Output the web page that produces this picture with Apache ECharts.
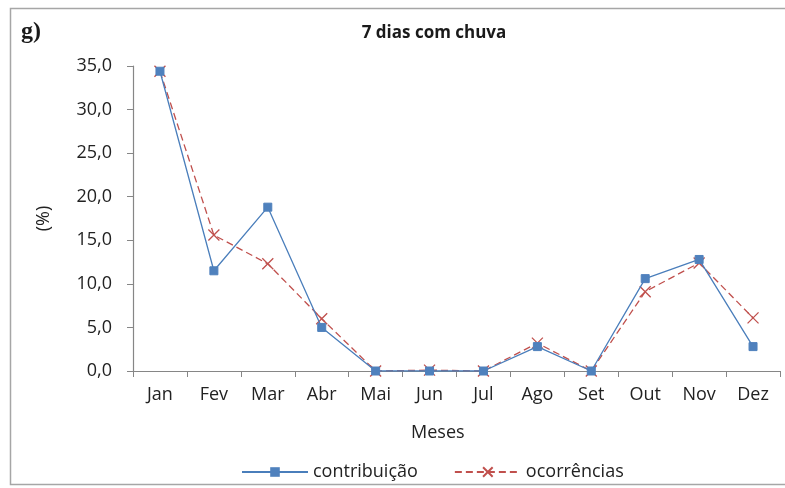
<!DOCTYPE html>
<html>
<head>
<meta charset="utf-8">
<script src="https://cdn.jsdelivr.net/npm/echarts@6/dist/echarts.min.js"></script>
<style>
  html, body { margin: 0; padding: 0; background: #fff; }
  #chart { width: 785px; height: 488px; }
</style>
</head>
<body>
<div id="chart"></div>
<script>
// Monthly share (%) of 7-day rain events
const months = ['Jan', 'Fev', 'Mar', 'Abr', 'Mai', 'Jun', 'Jul', 'Ago', 'Set', 'Out', 'Nov', 'Dez'];
const contribuicao = [34.4, 11.5, 18.8, 5.0, 0.0, 0.0, 0.0, 2.8, 0.0, 10.6, 12.8, 2.8];
const ocorrencias = [34.4, 15.6, 12.3, 6.0, 0.0, 0.1, 0.0, 3.2, 0.0, 9.1, 12.4, 6.1];
const yTicks = { min: 0, max: 35, step: 5 };

const FONT = '"Open Sans", "Liberation Sans", sans-serif';
const AXIS_GRAY = '#868686';
const TEXT = '#222222';

const chart = echarts.init(document.getElementById('chart'), null, { renderer: 'canvas' });

chart.setOption({
  backgroundColor: '#ffffff',
  animation: false,
  graphic: [
    {
      type: 'rect',
      shape: { x: 10.5, y: 8.5, width: 800, height: 476 },
      style: { fill: 'none', stroke: '#a6a6a6', lineWidth: 1.5 },
      silent: true
    },
    {
      type: 'text',
      left: 21, top: 20,
      style: { text: 'g)', font: 'bold 24px "Liberation Serif", serif', fill: '#1a1a1a' }
    },
    {
      type: 'text',
      left: 411, top: 424,
      style: { text: 'Meses', font: '18px ' + FONT, fill: TEXT }
    }
  ],
  title: {
    text: '7 dias com chuva',
    left: 429, top: 20,
    textAlign: 'center',
    textStyle: { fontFamily: FONT, fontSize: 17, fontWeight: 'bold', color: '#1a1a1a' }
  },
  legend: {
    left: 236, top: 458,
    itemWidth: 66, itemHeight: 12, itemGap: 36,
    textStyle: { fontFamily: FONT, fontSize: 18, color: TEXT },
    data: ['contribuição', 'ocorrências']
  },
  grid: { left: 133, right: 5, top: 66, bottom: 117, containLabel: false },
  xAxis: {
    type: 'category',
    data: months,
    boundaryGap: true,
    axisLine: { show: true, lineStyle: { color: AXIS_GRAY, width: 1.2 } },
    axisTick: { show: true, length: 6, lineStyle: { color: AXIS_GRAY } },
    axisLabel: { fontFamily: FONT, fontSize: 18, color: TEXT, margin: 15 },
    splitLine: { show: false }
  },
  yAxis: {
    type: 'value',
    min: yTicks.min, max: yTicks.max, interval: yTicks.step,
    name: '(%)',
    nameLocation: 'middle',
    nameGap: 80,
    nameRotate: 90,
    nameTextStyle: { fontFamily: FONT, fontSize: 18, color: TEXT },
    axisLine: { show: true, lineStyle: { color: AXIS_GRAY, width: 1.2 } },
    axisTick: { show: true, length: 6, lineStyle: { color: AXIS_GRAY } },
    axisLabel: {
      fontFamily: FONT, fontSize: 18, color: TEXT, margin: 21,
      formatter: v => v.toFixed(1).replace('.', ',')
    },
    splitLine: { show: false }
  },
  series: [
    {
      name: 'contribuição',
      type: 'line',
      data: contribuicao,
      symbol: 'rect',
      symbolSize: 8,
      showAllSymbol: true,
      lineStyle: { color: '#4a7ebb', width: 1.3 },
      itemStyle: { color: '#4f81bd', borderColor: '#4f81bd' },
      z: 3
    },
    {
      name: 'ocorrências',
      type: 'line',
      data: ocorrencias,
      symbol: 'path://M0,0L10,10M10,0L0,10',
      symbolSize: 11,
      showAllSymbol: true,
      lineStyle: { color: '#c0504d', width: 1.3, type: [7, 4] },
      itemStyle: { color: 'rgba(0,0,0,0)', borderColor: '#c0504d', borderWidth: 1.3 },
      z: 2
    }
  ]
});
</script>
</body>
</html>
